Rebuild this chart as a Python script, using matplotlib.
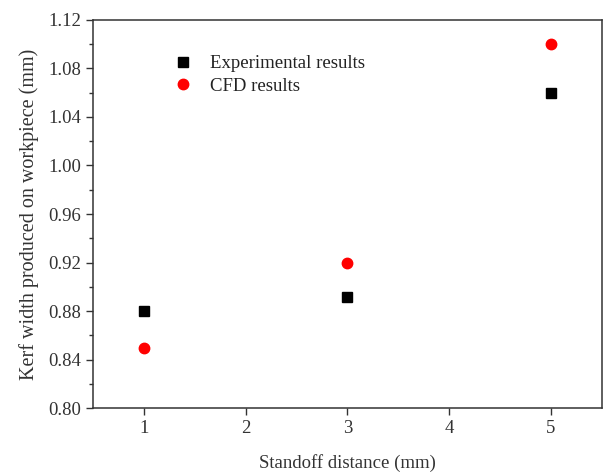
import matplotlib
matplotlib.use('Agg')
import matplotlib.pyplot as plt
from matplotlib.ticker import MultipleLocator

plt.rcParams['font.family'] = ['Liberation Serif', 'DejaVu Serif']

# Datos
distancia = [1, 3, 5]
exp_kerf = [0.88, 0.892, 1.06]
cfd_kerf = [0.85, 0.92, 1.10]

fig = plt.figure(figsize=(6.16, 4.73), dpi=100)
ax = fig.add_axes([0.151, 0.137, 0.826, 0.821])

ax.plot(distancia, exp_kerf, linestyle='none', marker='s', markersize=6.5,
        color='black', label='Experimental results')
ax.plot(distancia, cfd_kerf, linestyle='none', marker='o', markersize=7.5,
        color='#ff0000', markeredgecolor='#ff0000', label='CFD results')

ax.set_xlim(0.5, 5.5)
ax.set_ylim(0.80, 1.12)
ax.xaxis.set_major_locator(MultipleLocator(1))
ax.yaxis.set_major_locator(MultipleLocator(0.04))
ax.yaxis.set_minor_locator(MultipleLocator(0.02))
ax.yaxis.set_major_formatter(plt.FormatStrFormatter('%.2f'))

ax.tick_params(axis='both', which='major', direction='out', length=5, width=1,
               labelsize=13.5, colors='#333333', labelcolor='#333333')
ax.tick_params(axis='y', which='minor', direction='out', length=3, width=1, colors='#333333')
for s in ax.spines.values():
    s.set_color('#333333')
    s.set_linewidth(1.1)

ax.set_xlabel('Standoff distance (mm)', fontsize=13.5, color='#333333', labelpad=12)
ax.set_ylabel('Kerf width produced on workpiece (mm)', fontsize=14.5, color='#333333', labelpad=7)

ax.legend(loc='upper left', bbox_to_anchor=(0.122, 0.953), frameon=False,
          fontsize=13.5, handletextpad=0.84, labelspacing=0.3, handlelength=1.2,
          labelcolor='#222222')

fig.savefig('out.png', dpi=100)
